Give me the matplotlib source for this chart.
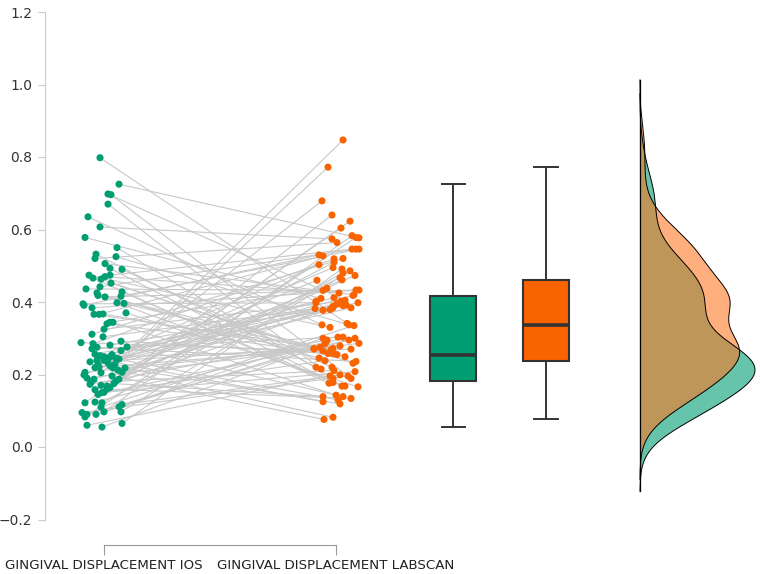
import numpy as np
import matplotlib
matplotlib.use("Agg")
import matplotlib.pyplot as plt

categories = ["GINGIVAL DISPLACEMENT IOS", "GINGIVAL DISPLACEMENT LABSCAN"]

ios_values = [
    .798, .725, .698, .696, .670, .635, .607, .578, .550, .532,
    .525, .520, .506, .493, .490, .474, .474, .470, .466, .463,
    .452, .442, .436, .428, .425, .418, .416, .414, .398, .396,
    .395, .391, .384, .370, .367, .366, .366, .344, .344, .340,
    .325, .311, .304, .175, .292, .288, .285, .281, .276, .275,
    .271, .170, .266, .160, .150, .256, .255, .252, .249, .248,
    .245, .243, .239, .239, .235, .232, .228, .228, .224, .220,
    .219, .218, .218, .212, .206, .206, .205, .199, .196, .190,
    .187, .187, .182, .178, .173, .168, .164, .158, .151, .145,
    .124, .122, .122, .117, .111, .110, .097, .097, .095, .090,
    .090, .083, .065, .060, .055]
ios_jitter_px = [
    -4, 15, 4, 7, 4, -16, -4, -19, 13, -8,
    12, -9, 1, 6, 18, -15, 6, 1, -11, -3,
    7, -4, -18, 18, -7, -6, 17, 1, 13, 20,
    -21, -20, -12, 22, -1, -10, -5, 6, 9, 3,
    0, -12, -1, 10, 17, -23, -11, 6, 23, -7,
    -12, -3, 17, 3, -2, -9, 8, -4, 0, 6,
    12, 15, -7, 0, -14, 4, 11, -6, 6, -5,
    -9, 9, 21, 14, -19, 18, -3, -20, 8, -17,
    -10, 15, 12, -13, -14, 3, 6, -9, 0, -6,
    -9, -19, -2, 18, 15, -3, 0, 17, -22, -17,
    -8, -19, 18, -17, -2]

labscan_values = [
    .341, .577, .405, .189, .215,
    .337, .574, .410, .189, .220,
    .337, .564, .420, .178, .220,
    .330, .546, .425, .176, .231,
    .272, .546, .432, .168, .245,
    .268, .546, .433, .168, .249,
    .398, .530, .433, .166, .255,
    .275, .527, .438, .143, .257,
    .402, .520, .388, .139, .258,
    .265, .519, .392, .139, .236,
    .303, .510, .402, .134, .238,
    .395, .503, .398, .130, .270,
    .390, .495, .412, .125, .270,
    .384, .847, .418, .119, .272,
    .384, .772, .461, .082, .279,
    .382, .679, .460, .076, .286,
    .379, .640, .467, .211, .295,
    .377, .623, .473, .208, .295,
    .290, .604, .480, .199, .300,
    .335, .583, .486, .196, .300,
    .285, .578, .491, .196, .303]
labscan_jitter_px = [
    11, 23, 9, 15, -15,
    -14, -4, -15, -3, -20,
    13, 1, 18, -3, -4,
    -6, 16, 3, -7, 17,
    -22, 20, -13, 6, -17,
    -5, 23, 20, 9, 9,
    -20, -17, 23, 22, 1,
    -16, -13, -9, 0, -3,
    5, 7, -3, -13, -8,
    -13, -2, 10, 7, 20,
    2, -2, -20, 15, -11,
    1, -17, 22, 2, 15,
    7, -3, -2, -13, -22,
    -3, 7, 17, 4, -3,
    15, -8, 6, -3, 4,
    -21, -14, -19, -12, 23,
    -6, -4, 4, -2, -9,
    -13, 14, 19, 19, 13,
    -10, 5, 7, 4, -13,
    18, 16, 14, 12, 19,
    -11, 20, 6, -6, 7]

col_ios = "#009E73"
col_lab = "#F96300"

ios = np.array(ios_values)
lab = np.array(labscan_values)
PX = 232.0  # pixels per x unit
x_ios = 0 + np.array(ios_jitter_px) / PX
x_lab = 1 + np.array(labscan_jitter_px) / PX

fig = plt.figure(figsize=(7.6, 5.74), dpi=100)
ax = fig.add_axes([45 / 760, 29 / 574, 1 - 45 / 760, 1 - 29 / 574])

# paired lines
for a, b, ya, yb in zip(x_ios, x_lab, ios, lab):
    ax.plot([a, b], [ya, yb], color="#c8c8c8", lw=0.8, zorder=1)

ax.scatter(x_ios, ios, s=26, color=col_ios, edgecolors="none", zorder=3)
ax.scatter(x_lab, lab, s=26, color=col_lab, edgecolors="none", zorder=3)

# boxplots
bp = ax.boxplot([ios, lab], positions=[1.505, 1.905], widths=0.2,
                showfliers=False, patch_artist=True, whis=1.5,
                capwidths=0.1, manage_ticks=False,
                boxprops=dict(edgecolor="#333333", linewidth=1.5),
                whiskerprops=dict(color="#333333", linewidth=1.4),
                capprops=dict(color="#333333", linewidth=1.4),
                medianprops=dict(color="#333333", linewidth=2.6))
for patch, c in zip(bp["boxes"], [col_ios, col_lab]):
    patch.set_facecolor(c)

# half violins (densities, Silverman bandwidth, cut = 3 bw)
def density(data):
    n = len(data)
    q75, q25 = np.percentile(data, [75, 25])
    bw = 0.9 * min(data.std(ddof=1), (q75 - q25) / 1.34) * n ** (-1 / 5)
    grid = np.linspace(data.min() - 3 * bw, data.max() + 3 * bw, 512)
    z = (grid[:, None] - data[None, :]) / bw
    d = np.exp(-0.5 * z ** 2).sum(axis=1) / (n * bw * np.sqrt(2 * np.pi))
    return grid, d

g1, d1 = density(ios)
g2, d2 = density(lab)
x0 = 2.31
scale = 0.496 / d1.max()
ax.fill_betweenx(g1, x0, x0 + d1 * scale, facecolor=col_ios, alpha=0.6,
                 edgecolor="none", zorder=2)
ax.plot(x0 + d1 * scale, g1, color="black", lw=0.7, zorder=4)
ax.fill_betweenx(g2, x0, x0 + d2 * scale, facecolor="#FF7520", alpha=0.58,
                 edgecolor="none", zorder=2.5)
ax.plot(x0 + d2 * scale, g2, color="black", lw=0.7, zorder=4)
ax.plot([x0, x0], [min(g1.min(), g2.min()), max(g1.max(), g2.max())],
        color="black", lw=0.9, zorder=4)

# axes styling
ax.set_xlim(-59 / PX, 656 / PX)
ax.set_ylim((447 - 545) / 362.5, 447 / 362.5)
for s in ["top", "right"]:
    ax.spines[s].set_visible(False)
ax.spines["left"].set_bounds(-0.2, 1.2)
ax.spines["bottom"].set_bounds(0, 1)
ax.spines["left"].set_color("#cccccc")
ax.spines["bottom"].set_color("#999999")
ax.spines["left"].set_linewidth(0.8)
ax.spines["bottom"].set_linewidth(0.8)
ax.set_yticks([-0.2, 0.0, 0.2, 0.4, 0.6, 0.8, 1.0, 1.2])
ax.set_yticklabels(["\u22120.2", "0.0", "0.2", "0.4", "0.6", "0.8", "1.0", "1.2"])
ax.set_xticks([0, 1])
ax.set_xticklabels(categories)
ax.tick_params(axis="y", colors="#cccccc", labelcolor="#333333", length=5,
               width=0.8, labelsize=10, pad=4)
ax.tick_params(axis="x", colors="#999999", labelcolor="#222222", length=7,
               width=0.8, labelsize=9.6, pad=3)

fig.savefig("out.png", dpi=100)
